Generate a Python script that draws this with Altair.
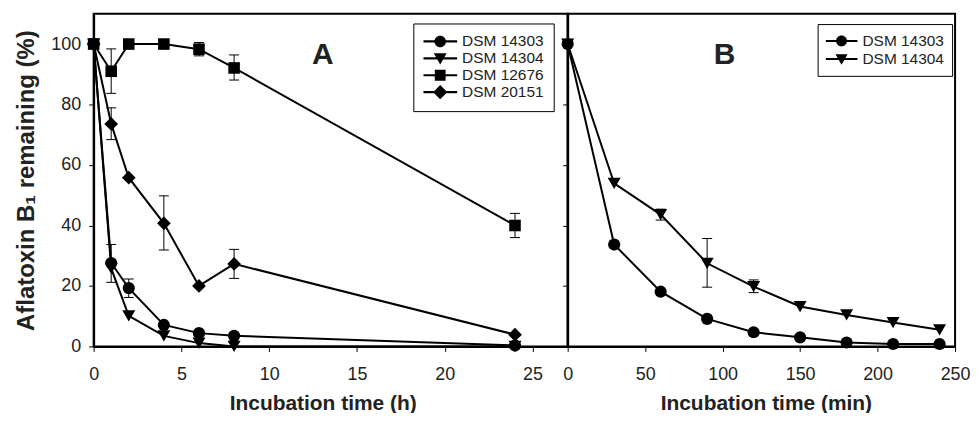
import altair as alt
import pandas as pd

FONT = "Liberation Sans"
INK = "black"
TXT = "#222222"

# ---------------- Panel A data (hours) ----------------
strains_a = ["DSM 14303", "DSM 14304", "DSM 12676", "DSM 20151"]
hours = [0, 1, 2, 4, 6, 8, 24]
a_dsm14303 = [100, 27.6, 19.3, 7.1, 4.4, 3.5, 0.3]
a_dsm14304 = [100, 25.8, 10.1, 3.5, 1.1, 0.0, 0.0]
a_dsm12676 = [100, 91.0, 100, 100, 98.3, 92.1, 40.0]
a_dsm20151 = [100, 73.6, 55.8, 40.7, 20.0, 27.3, 3.9]

err_a_strain = ["DSM 14303", "DSM 14303", "DSM 12676", "DSM 12676", "DSM 12676",
                "DSM 12676", "DSM 20151", "DSM 20151", "DSM 20151"]
err_a_time = [1, 2, 1, 6, 8, 24, 1, 4, 8]
err_a_low = [21.2, 16.2, 83.7, 96.1, 88.1, 36.0, 68.4, 31.9, 22.5]
err_a_high = [33.7, 22.3, 98.4, 100.5, 96.4, 44.0, 78.9, 49.8, 32.1]

# ---------------- Panel B data (minutes) ----------------
strains_b = ["DSM 14303", "DSM 14304"]
minutes = [0, 30, 60, 90, 120, 150, 180, 210, 240]
b_dsm14303 = [100, 33.7, 18.1, 9.1, 4.7, 3.0, 1.3, 0.8, 0.8]
b_dsm14304 = [100, 53.9, 43.6, 27.5, 19.8, 13.2, 10.4, 7.9, 5.5]

err_b_strain = ["DSM 14304", "DSM 14304", "DSM 14304"]
err_b_time = [60, 90, 120]
err_b_low = [41.8, 19.6, 17.8]
err_b_high = [45.4, 35.7, 22.0]

y_ticks = [0, 20, 40, 60, 80, 100]
x_ticks_a = [0, 5, 10, 15, 20, 25]
x_ticks_b = [0, 50, 100, 150, 200, 250]

# ---------------- styles ----------------
marker_shape = {"DSM 14303": "circle", "DSM 14304": "triangle-down",
                "DSM 12676": "square", "DSM 20151": "diamond"}
marker_size = {"DSM 14303": 150, "DSM 14304": 170, "DSM 12676": 135, "DSM 20151": 190}
# legend glyphs: a short bar with the marker in the middle (unit-square coords,
# all sub-paths wound the same way so they fill as a union)
STUB = "M-1,-0.065H1V0.065H-1Z"
legend_glyph = {
    "DSM 14303": STUB + "M0.34,0A0.34,0.34,0,1,1,-0.34,0A0.34,0.34,0,1,1,0.34,0Z",
    "DSM 14304": STUB + "M-0.38,-0.3H0.38L0,0.36Z",
    "DSM 12676": STUB + "M-0.32,-0.32H0.32V0.32H-0.32Z",
    "DSM 20151": STUB + "M-0.42,0L0,-0.42L0.42,0L0,0.42Z",
}


def long_table(times, series, strains):
    rows = []
    for s, vals in zip(strains, series):
        for t, v in zip(times, vals):
            rows.append({"t": t, "value": v, "strain": s})
    return pd.DataFrame(rows)


df_a = long_table(hours, [a_dsm14303, a_dsm14304, a_dsm12676, a_dsm20151], strains_a)
df_b = long_table(minutes, [b_dsm14303, b_dsm14304], strains_b)
err_a = pd.DataFrame({"strain": err_a_strain, "t": err_a_time, "low": err_a_low, "high": err_a_high})
err_b = pd.DataFrame({"strain": err_b_strain, "t": err_b_time, "low": err_b_low, "high": err_b_high})

PLOT_H = 334


def panel(df, err, strains, xdomain, xvalues, xtitle, title_x, width, letter, letter_dx,
          legend_x, legend_y, row_h, sym_size, leg_pad, label_expr, y_labels):
    x_enc = alt.X("t:Q", scale=alt.Scale(domain=xdomain, nice=False, zero=False),
                  axis=alt.Axis(values=xvalues, title=xtitle, titleX=title_x,
                                labelOverlap=False, labelBound=False, labelFlush=False))
    if y_labels:
        y_axis = alt.Axis(values=y_ticks, title="Aflatoxin B\u2081 remaining (%)")
    else:
        y_axis = alt.Axis(values=y_ticks, labels=False, title=None)
    y_enc = alt.Y("value:Q", scale=alt.Scale(domain=[0, 110], nice=False), axis=y_axis)

    base = alt.Chart(df)
    lines = base.mark_line(color=INK, strokeWidth=2).encode(
        x=x_enc, y=y_enc, detail="strain:N", order="t:Q")
    ebase = alt.Chart(err)
    bars = ebase.mark_rule(color=INK, strokeWidth=1).encode(
        x="t:Q", y="low:Q", y2="high:Q")
    cap_lo = ebase.mark_tick(orient="horizontal", color=INK, size=10, thickness=1,
                             opacity=1).encode(x="t:Q", y="low:Q")
    cap_hi = ebase.mark_tick(orient="horizontal", color=INK, size=10, thickness=1,
                             opacity=1).encode(x="t:Q", y="high:Q")
    points = [
        base.transform_filter(alt.datum.strain == s).mark_point(
            shape=marker_shape[s], size=marker_size[s], filled=True,
            color=INK, opacity=1).encode(x="t:Q", y="value:Q")
        for s in strains
    ]
    legend = base.transform_filter("false").mark_point(
        filled=True, color=INK, opacity=1).encode(
        shape=alt.Shape(
            "strain:N",
            scale=alt.Scale(domain=strains, range=[legend_glyph[s] for s in strains]),
            legend=alt.Legend(
                title=None, orient="none", legendX=legend_x, legendY=legend_y,
                symbolSize=sym_size, symbolStrokeWidth=0, symbolFillColor=INK,
                symbolOpacity=1, clipHeight=row_h, rowPadding=0,
                labelFont=FONT, labelFontSize=15.5, labelColor=TXT, labelOffset=5,
                labelExpr=label_expr,
                padding=leg_pad, strokeColor=INK, fillColor="white",
            ),
        )
    )
    return alt.layer(lines, bars, cap_lo, cap_hi, *points, legend).properties(
        width=width, height=PLOT_H,
        title=alt.TitleParams(letter, anchor="middle", frame="group", dx=letter_dx,
                              offset=-80, baseline="alphabetic", fontSize=30,
                              font=FONT, fontWeight="bold", color=TXT),
    )


panel_a = panel(df_a, err_a, strains_a, [0, 27], x_ticks_a, "Incubation time (h)", 230,
                476, "A", -8, 321, 9.7, 16, 1156, 10,
                "datum.label + '\u00a0\u00a0'", True)
panel_b = panel(df_b, err_b, strains_b, [0, 250], x_ticks_b, "Incubation time (min)", 199,
                389, "B", -37, 251, 10.3, 18, 1024, 8, "datum.label", False)

chart = (
    alt.hconcat(panel_a, panel_b, spacing=0, bounds="flush")
    .resolve_scale(shape="independent", x="independent", y="independent")
    .resolve_legend(shape="independent")
    .properties(padding={"left": 5, "top": 4, "right": 0, "bottom": -2},
                background="white")
    .configure_view(stroke=INK, strokeWidth=2)
    .configure_axis(domainColor=INK, domainWidth=2, tickColor=INK, tickWidth=1,
                    tickSize=5, grid=False, labelFont=FONT, labelFontSize=18,
                    labelColor=TXT, titleFont=FONT, titleFontWeight="bold",
                    titleColor=TXT)
    .configure_axisX(labelPadding=14, titlePadding=9, titleFontSize=21)
    .configure_axisY(labelPadding=8, titlePadding=12, titleFontSize=24)
)

chart.save("out.html", embed_options={"renderer": "svg", "actions": False})
